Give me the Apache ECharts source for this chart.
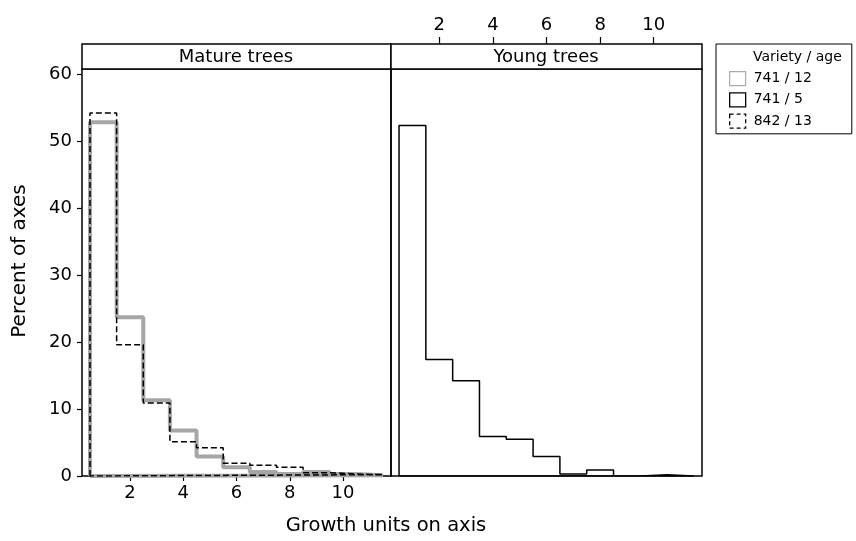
<!DOCTYPE html>
<html>
<head>
<meta charset="utf-8">
<script src="https://cdn.jsdelivr.net/npm/echarts@6/dist/echarts.min.js"></script>
<style>
html,body{margin:0;padding:0;background:#fff;}
#chart{width:856px;height:541px;}
</style>
</head>
<body>
<div id="chart"></div>
<script>
// ---- data ----
const binCenters = [1, 2, 3, 4, 5, 6, 7, 8, 9, 10, 11];
const mature741_12 = [52.8, 23.7, 11.3, 6.8, 2.9, 1.3, 0.6, 0.3, 0.6, 0.3, 0.1];
const mature842_13 = [54.2, 19.6, 10.9, 5.1, 4.2, 1.9, 1.6, 1.3, 0.5, 0.3, 0.2];
const young741_5  = [52.3, 17.4, 14.2, 5.9, 5.5, 2.9, 0.3, 0.9, 0.0, 0.2, 0.0];
const xTicks = [2, 4, 6, 8, 10];
const yTicks = [0, 10, 20, 30, 40, 50, 60];
const panelNames = ['Mature trees', 'Young trees'];
const seriesNames = ['741 / 12', '741 / 5', '842 / 13'];
const legendTitle = 'Variety / age';
const xTitle = 'Growth units on axis';
const yTitle = 'Percent of axes';

// histogram outline (closed step path) from bin values
function outline(values) {
  const half = 0.5;
  const pts = [[binCenters[0] - half, 0]];
  values.forEach((v, i) => pts.push([binCenters[i] - half, v]));
  pts.push([binCenters[binCenters.length - 1] + half, 0]);
  pts.push([binCenters[0] - half, 0]);
  return pts;
}

const FONT = 'DejaVu Sans';
const chart = echarts.init(document.getElementById('chart'), null, {renderer: 'canvas'});

const xBase = {
  type: 'value', min: 0.2, max: 11.8,
  splitLine: {show: false},
  axisLine: {show: false, onZero: false},
  axisTick: {show: true, customValues: xTicks, lineStyle: {color: '#000', width: 1.2}},
  axisLabel: {customValues: xTicks, color: '#000', fontFamily: FONT, fontSize: 18}
};
const yBase = {
  type: 'value', min: 0, max: 60.75,
  splitLine: {show: false},
  axisLine: {show: false, onZero: false}
};

const option = {
  animation: false,
  backgroundColor: '#fff',
  grid: [
    {left: 82, top: 69, width: 309, height: 407, show: true, borderColor: '#000', borderWidth: 1.5, backgroundColor: 'transparent'},
    {left: 391, top: 69, width: 311, height: 407, show: true, borderColor: '#000', borderWidth: 1.5, backgroundColor: 'transparent'}
  ],
  xAxis: [
    Object.assign({}, xBase, {gridIndex: 0, position: 'bottom',
      axisTick: Object.assign({}, xBase.axisTick, {length: 5}),
      axisLabel: Object.assign({}, xBase.axisLabel, {margin: 8})}),
    Object.assign({}, xBase, {gridIndex: 1, position: 'top', offset: 25,
      axisTick: Object.assign({}, xBase.axisTick, {length: 7}),
      axisLabel: Object.assign({}, xBase.axisLabel, {margin: 10})})
  ],
  yAxis: [
    Object.assign({}, yBase, {gridIndex: 0,
      axisTick: {show: true, length: 5, customValues: yTicks, lineStyle: {color: '#000', width: 1.2}},
      axisLabel: {customValues: yTicks, color: '#000', fontFamily: FONT, fontSize: 18, margin: 10}}),
    Object.assign({}, yBase, {gridIndex: 1, axisTick: {show: false}, axisLabel: {show: false}})
  ],
  legend: {
    orient: 'vertical',
    left: 716, top: 44,
    padding: [27, 40, 5, 13],
    itemWidth: 16, itemHeight: 14, itemGap: 6,
    borderColor: '#000', borderWidth: 1,
    icon: 'rect',
    selectedMode: false,
    textStyle: {fontFamily: FONT, fontSize: 14, color: '#000', padding: [0, 0, 0, 3]},
    data: [
      {name: seriesNames[0], icon: 'rect', itemStyle: {color: '#fff', borderColor: '#aaaaaa', borderWidth: 1.2}},
      {name: seriesNames[1], icon: 'rect', itemStyle: {color: '#fff', borderColor: '#000', borderWidth: 1.3}},
      {name: seriesNames[2], icon: 'rect', itemStyle: {color: '#fff', borderColor: '#000', borderWidth: 1.3, borderType: [4, 3]}}
    ]
  },
  series: [
    {name: seriesNames[0], type: 'line', xAxisIndex: 0, yAxisIndex: 0, step: 'end',
      data: outline(mature741_12), symbol: 'none', z: 2,
      lineStyle: {color: '#a6a6a6', width: 4}, itemStyle: {color: '#a6a6a6'}},
    {name: seriesNames[2], type: 'line', xAxisIndex: 0, yAxisIndex: 0, step: 'end',
      data: outline(mature842_13), symbol: 'none', z: 3,
      lineStyle: {color: '#000', width: 1.5, type: [6, 3]}, itemStyle: {color: '#000'}},
    {name: seriesNames[1], type: 'line', xAxisIndex: 1, yAxisIndex: 1, step: 'end',
      data: outline(young741_5), symbol: 'none', z: 3,
      lineStyle: {color: '#000', width: 1.5}, itemStyle: {color: '#000'}}
  ],
  graphic: [
    {type: 'rect', z: 10, shape: {x: 82, y: 44, width: 309, height: 25}, style: {fill: '#fff', stroke: '#000', lineWidth: 1.5}},
    {type: 'rect', z: 10, shape: {x: 391, y: 44, width: 311, height: 25}, style: {fill: '#fff', stroke: '#000', lineWidth: 1.5}},
    {type: 'text', z: 11, x: 236, y: 57, style: {text: panelNames[0], fontFamily: FONT, fontSize: 18, fill: '#000', textAlign: 'center', textVerticalAlign: 'middle'}},
    {type: 'text', z: 11, x: 546, y: 57, style: {text: panelNames[1], fontFamily: FONT, fontSize: 18, fill: '#000', textAlign: 'center', textVerticalAlign: 'middle'}},
    {type: 'text', z: 11, x: 386, y: 526, style: {text: xTitle, fontFamily: FONT, fontSize: 19.5, fill: '#000', textAlign: 'center', textVerticalAlign: 'middle'}},
    {type: 'text', z: 11, x: 20, y: 261, rotation: Math.PI / 2, style: {text: yTitle, fontFamily: FONT, fontSize: 20, fill: '#000', textAlign: 'center', textVerticalAlign: 'middle'}},
    {type: 'text', z: 11, x: 753, y: 57, style: {text: legendTitle, fontFamily: FONT, fontSize: 14, fill: '#000', textAlign: 'left', textVerticalAlign: 'middle'}}
  ]
};
chart.setOption(option);
</script>
</body>
</html>
